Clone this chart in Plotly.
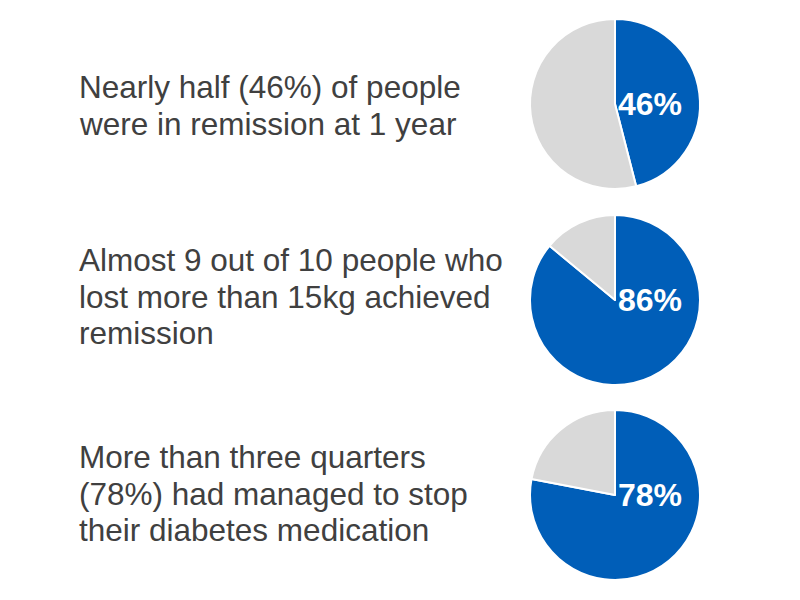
import plotly.graph_objects as go

statements = [
    ["Nearly half (46%) of people", "were in remission at 1 year"],
    ["Almost 9 out of 10 people who", "lost more than 15kg achieved", "remission"],
    ["More than three quarters", "(78%) had managed to stop", "their diabetes medication"],
]
percent_yes = [46, 86, 78]
slice_names = ["Yes", "No"]

blue = "#005EB8"
grey = "#D9D9D9"
W, H = 800, 600
OFF = 8  # page body offset
centers_y = [104, 300, 495]
first_baseline = [98, 271, 468]
line_gap = 36.5
cx = 615
r = 85


def px(x):
    return (x - OFF) / W


def py(y):
    return 1 - (y - OFF) / H


fig = go.Figure()
for i, (p, cy) in enumerate(zip(percent_yes, centers_y)):
    fig.add_trace(go.Pie(
        labels=slice_names, values=[p, 100 - p],
        sort=False, direction="clockwise", rotation=0,
        marker=dict(colors=[blue, grey], line=dict(color="white", width=2)),
        textinfo="none", hoverinfo="label+value",
        domain=dict(x=[px(cx - r), px(cx + r)],
                    y=[py(cy + r), py(cy - r)]),
        showlegend=False,
    ))
    fig.add_annotation(
        x=px(616), y=py(cy), xref="paper", yref="paper",
        xanchor="left", yanchor="middle", showarrow=False,
        text=f"<b>{p}%</b>",
        font=dict(family="Liberation Sans, Arial", size=32, color="white"),
    )
    for j, line in enumerate(statements[i]):
        base = first_baseline[i] + j * line_gap
        fig.add_annotation(
            x=px(77), y=py(base - 11), xref="paper", yref="paper",
            xanchor="left", yanchor="middle", align="left", showarrow=False,
            text=line,
            font=dict(family="Liberation Sans, Arial", size=31.5, color="#404040"),
        )

fig.update_layout(
    width=W, height=H,
    margin=dict(l=0, r=0, t=0, b=0),
    paper_bgcolor="white", plot_bgcolor="white",
)
fig.write_html("out.html")
